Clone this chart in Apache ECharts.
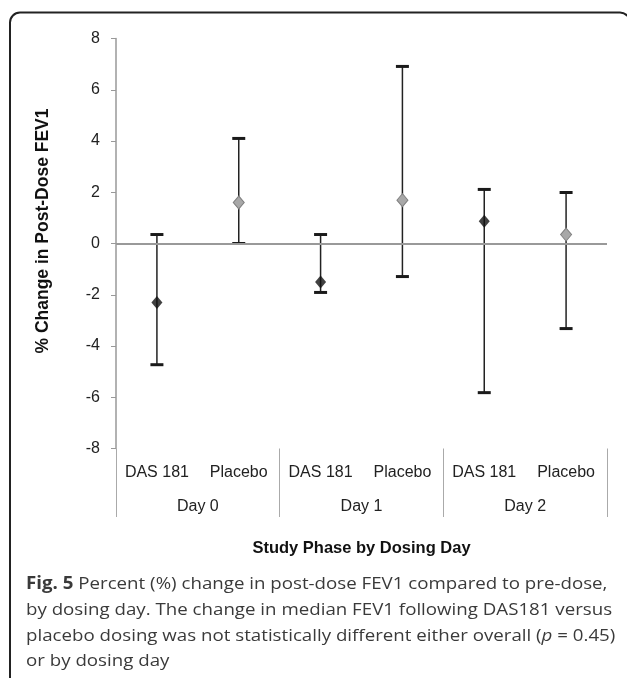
<!DOCTYPE html>
<html>
<head>
<meta charset="utf-8">
<script src="https://cdn.jsdelivr.net/npm/echarts@6/dist/echarts.min.js"></script>
<style>
  html, body { margin: 0; padding: 0; background: #fff; }
  #chart { width: 627px; height: 678px; }
</style>
</head>
<body>
<div id="chart"></div>
<script>
  // 数据
  var categories = ['DAS 181', 'Placebo', 'DAS 181', 'Placebo', 'DAS 181', 'Placebo'];
  var days = ['Day 0', 'Day 1', 'Day 2'];
  var means = [-2.30, 1.60, -1.50, 1.69, 0.87, 0.35];
  var lows = [-4.73, 0.00, -1.91, -1.29, -5.82, -3.32];
  var highs = [0.35, 4.10, 0.35, 6.91, 2.11, 1.99];
  var yMin = -8, yMax = 8, yStep = 2;

  var captionLines = [
    '{b|Fig. 5} Percent (%) change in post-dose FEV1 compared to pre-dose,',
    'by dosing day. The change in median FEV1 following DAS181 versus',
    'placebo dosing was not statistically different either overall ({i|p} = 0.45)',
    'or by dosing day'
  ];

  var dasPts = [], plaPts = [], bars = [];
  for (var i = 0; i < categories.length; i++) {
    bars.push([i, lows[i], highs[i]]);
    if (categories[i] === 'DAS 181') dasPts.push([i, means[i]]);
    else plaPts.push([i, means[i]]);
  }

  var myChart = echarts.init(document.getElementById('chart'));

  var capFont = 'Open Sans';
  var captionGraphics = captionLines.map(function (l, k) {
    return {
      type: 'text',
      x: 26,
      y: 576 + k * 25.7,
      scaleX: 1.1,
      style: {
        text: l,
        font: '17px "Open Sans"',
        fill: '#3a3a3a',
        verticalAlign: 'top',
        rich: {
          b: { fontFamily: capFont, fontWeight: 'bold', fontSize: 17, fill: '#3a3a3a' },
          i: { fontFamily: capFont, fontStyle: 'italic', fontSize: 17, fill: '#3a3a3a' }
        }
      }
    };
  });

  myChart.setOption({
    animation: false,
    backgroundColor: '#fff',
    grid: { left: 116, right: 20, top: 38.5, bottom: 229.5 },
    xAxis: [{
      type: 'category',
      data: categories,
      name: 'Study Phase by Dosing Day',
      nameLocation: 'middle',
      nameGap: 91,
      nameTextStyle: { fontFamily: 'Liberation Sans', fontWeight: 'bold', fontSize: 16.5, color: '#111' },
      axisLine: { show: false },
      axisTick: { show: false },
      axisLabel: { interval: 0, fontFamily: 'Liberation Sans', fontSize: 16, color: '#222', margin: 16 }
    }, {
      type: 'category',
      data: days,
      position: 'bottom',
      offset: 68.5,
      axisLine: { show: false },
      axisTick: { show: true, inside: true, length: 68.5, lineStyle: { color: '#aaa', width: 1 } },
      axisLabel: { interval: 0, inside: true, margin: 2, fontFamily: 'Liberation Sans', fontSize: 16, color: '#222' }
    }],
    yAxis: {
      type: 'value',
      min: yMin,
      max: yMax,
      interval: yStep,
      axisLine: { show: true, lineStyle: { color: '#999', width: 1.5 } },
      axisTick: { show: true, length: 5, lineStyle: { color: '#999' } },
      axisLabel: { fontFamily: 'Liberation Sans', fontSize: 16, color: '#222', margin: 16 },
      splitLine: { show: false }
    },
    graphic: [{
      type: 'rect',
      shape: { x: 10, y: 12.5, width: 620, height: 720, r: 10 },
      style: { fill: 'none', stroke: '#222', lineWidth: 2 },
      silent: true
    }, {
      type: 'text',
      x: 43,
      y: 231,
      rotation: Math.PI / 2,
      style: {
        text: '% Change in Post-Dose FEV1',
        font: 'bold 17.5px "Liberation Sans"',
        fill: '#111',
        align: 'center',
        verticalAlign: 'middle'
      }
    }].concat(captionGraphics),
    series: [{
      type: 'custom',
      name: 'range',
      data: bars,
      z: 3,
      renderItem: function (params, api) {
        var lo = api.coord([api.value(0), api.value(1)]);
        var hi = api.coord([api.value(0), api.value(2)]);
        var hw = 6.5;
        return {
          type: 'group',
          children: [{
            type: 'line',
            shape: { x1: hi[0], y1: hi[1], x2: lo[0], y2: lo[1] },
            style: { stroke: '#222', lineWidth: 1.5 }
          }, {
            type: 'line',
            shape: { x1: hi[0] - hw, y1: hi[1], x2: hi[0] + hw, y2: hi[1] },
            style: { stroke: '#1a1a1a', lineWidth: 3 }
          }, {
            type: 'line',
            shape: { x1: lo[0] - hw, y1: lo[1], x2: lo[0] + hw, y2: lo[1] },
            style: { stroke: '#1a1a1a', lineWidth: 3 }
          }]
        };
      },
      markLine: {
        silent: true,
        symbol: 'none',
        label: { show: false },
        lineStyle: { color: '#999', width: 2, type: 'solid' },
        data: [{ yAxis: 0 }]
      }
    }, {
      type: 'scatter',
      name: 'DAS 181',
      data: dasPts,
      symbol: 'diamond',
      symbolSize: [11, 13],
      z: 5,
      itemStyle: { color: '#111' }
    }, {
      type: 'scatter',
      name: 'Placebo',
      data: plaPts,
      symbol: 'diamond',
      symbolSize: [11, 13],
      z: 5,
      itemStyle: { color: '#a8a8a8', borderColor: '#808080', borderWidth: 1, opacity: 1 }
    }]
  });
</script>
</body>
</html>
